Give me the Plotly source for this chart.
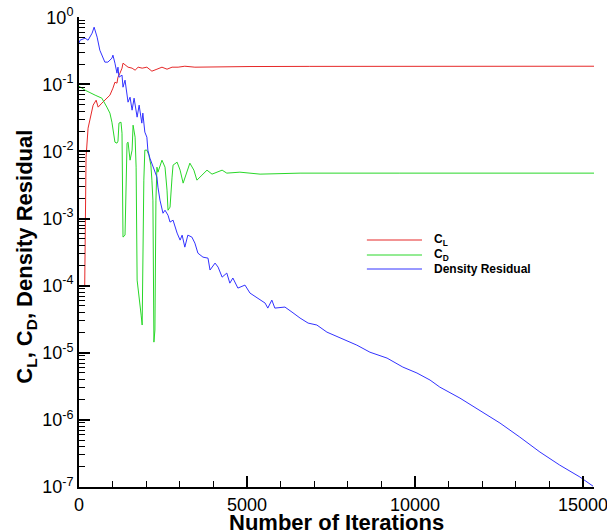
import plotly.graph_objects as go

# ---------------- data ----------------
it_cl = [170, 210, 270, 390, 420, 510, 570, 680, 830, 920, 1010, 1070, 1130, 1160,
         1220, 1280, 1310, 1370, 1460, 1580, 1670, 1760, 1880, 2020, 2170, 2320,
         2470, 2620, 2770, 2950, 3150, 3450, 3900, 5090, 6870, 9550, 15330]
cl = [1.0e-4, 8.2e-3, 0.0222, 0.0412, 0.0489, 0.058, 0.0457, 0.0524, 0.0622, 0.0689,
      0.0876, 0.1076, 0.104, 0.1277, 0.1466, 0.174, 0.2065, 0.193, 0.180, 0.174,
      0.1624, 0.180, 0.174, 0.180, 0.157, 0.168, 0.180, 0.168, 0.180, 0.180, 0.186,
      0.180, 0.182, 0.184, 0.185, 0.186, 0.186]

it_cd = [0, 180, 480, 680, 830, 920, 980, 1010, 1070, 1130, 1160, 1190, 1250, 1280,
         1310, 1370, 1400, 1430, 1460, 1520, 1580, 1610, 1670, 1700, 1730, 1790,
         1850, 1880, 1900, 1930, 1960, 2020, 2080, 2140, 2170, 2200, 2230, 2260,
         2290, 2320, 2350, 2470, 2560, 2620, 2650, 2710, 2770, 2800, 2920, 3010,
         3100, 3210, 3300, 3420, 3510, 3660, 3810, 3960, 4110, 4260, 4400, 4790,
         5390, 6580, 9550, 15330]
cd = [0.0938, 0.0818, 0.0689, 0.0622, 0.0457, 0.0372, 0.0273, 0.0207, 0.01374,
      0.01328, 0.01422, 0.0264, 0.0273, 0.0187, 5.29e-4, 5.66e-4, 1.88e-3, 0.01328,
      0.01374, 7.41e-3, 0.01045, 0.0246, 0.0163, 5.83e-3, 1.21e-4, 7.23e-5, 3.64e-5,
      2.59e-5, 6.72e-4, 3.73e-3, 0.01045, 0.01045, 8.81e-3, 6.25e-3, 3.73e-3,
      1.88e-3, 1.44e-5, 2.18e-5, 1.88e-3, 5.83e-3, 4.91e-3, 7.41e-3, 5.83e-3,
      2.65e-3, 1.33e-3, 1.48e-3, 4.14e-3, 6.25e-3, 6.92e-3, 5.26e-3, 3.37e-3,
      4.91e-3, 6.69e-3, 5.26e-3, 3.73e-3, 4.43e-3, 5.26e-3, 4.59e-3, 4.91e-3,
      5.26e-3, 4.75e-3, 4.91e-3, 4.59e-3, 4.75e-3, 4.75e-3, 4.75e-3]

it_res = [0, 30, 180, 270, 390, 450, 540, 620, 770, 860, 980, 1010, 1070, 1130, 1160,
          1190, 1280, 1310, 1370, 1430, 1460, 1520, 1580, 1640, 1730, 1790, 1870,
          1900, 1960, 2020, 2050, 2110, 2200, 2320, 2350, 2410, 2500, 2560, 2650,
          2710, 2800, 2920, 3010, 3070, 3150, 3240, 3360, 3450, 3540, 3690, 3840,
          3900, 4050, 4140, 4260, 4400, 4490, 4580, 4730, 4940, 5090, 5300, 5540,
          5620, 5740, 5830, 6130, 6340, 6580, 6820, 7080, 7380, 7770, 8270, 8660,
          9170, 9640, 10060, 10450, 10740, 11340, 11930, 12530, 13120, 13720, 14310,
          14910, 15300]
res = [0.410, 0.454, 0.487, 0.454, 0.578, 0.710, 0.504, 0.322, 0.214, 0.214, 0.245,
       0.272, 0.2065, 0.1466, 0.180, 0.1277, 0.137, 0.0906, 0.1153, 0.0738, 0.0542,
       0.0643, 0.0412, 0.0622, 0.0324, 0.0489, 0.0264, 0.0372, 0.0194, 0.0163,
       0.01045, 7.94e-3, 5.83e-3, 4.14e-3, 2.94e-3, 1.88e-3, 1.20e-3, 1.33e-3,
       1.12e-3, 8.85e-4, 9.46e-4, 6.07e-4, 4.77e-4, 5.66e-4, 3.75e-4, 5.66e-4,
       5.29e-4, 4.30e-4, 3.05e-4, 2.66e-4, 2.57e-4, 1.71e-4, 2.17e-4, 1.89e-4,
       1.34e-4, 1.54e-4, 1.09e-4, 1.30e-4, 9.20e-5, 1.02e-4, 7.75e-5, 6.53e-5,
       5.50e-5, 4.63e-5, 6.09e-5, 4.63e-5, 4.80e-5, 4.04e-5, 3.29e-5, 2.77e-5,
       2.59e-5, 2.03e-5, 1.65e-5, 1.30e-5, 1.02e-5, 8.33e-6, 6.12e-6, 4.99e-6,
       3.92e-6, 3.08e-6, 2.11e-6, 1.40e-6, 8.98e-7, 5.55e-7, 3.32e-7, 2.12e-7,
       1.41e-7, 1.03e-7]

series_names = ["<b>C<sub>L</sub></b>", "<b>C<sub>D</sub></b>", "<b>Density Residual</b>"]
series_colors = ["rgb(230,40,40)", "rgb(40,215,40)", "rgb(50,50,255)"]

x_ticks = [0, 5000, 10000, 15000]
x_ticktext = ["0", "5000", "10000", "15000"]
x_minor = [1000, 2000, 3000, 4000, 6000, 7000, 8000, 9000, 11000, 12000, 13000, 14000]
y_ticks = [1e-7, 1e-6, 1e-5, 1e-4, 1e-3, 1e-2, 1e-1, 1e0]
y_ticktext = ["10<sup>-7</sup>", "10<sup>-6</sup>", "10<sup>-5</sup>", "10<sup>-4</sup>",
              "10<sup>-3</sup>", "10<sup>-2</sup>", "10<sup>-1</sup>", "10<sup>0</sup>"]

# ---------------- figure ----------------
FONT = "Liberation Sans, Arial, sans-serif"
fig = go.Figure()
for xs, ys, nm, col in zip([it_cl, it_cd, it_res], [cl, cd, res], series_names, series_colors):
    fig.add_trace(go.Scatter(x=xs, y=ys, mode="lines", name=nm,
                             line=dict(color=col, width=1)))

minor_y = [m * 10.0 ** k for k in range(-7, 0) for m in range(2, 10)]

# legend drawn as line samples + labels (compact Tecplot-style spacing)
leg_y = [0.5255, 0.4936, 0.4638]
shapes = []
annotations = []
for yy, nm, col in zip(leg_y, series_names, series_colors):
    shapes.append(dict(type="line", xref="paper", yref="paper", x0=0.559, x1=0.666,
                       y0=yy, y1=yy, line=dict(color=col, width=1)))
    annotations.append(dict(text=nm, xref="paper", yref="paper", x=0.685, y=yy,
                            xanchor="left", yanchor="middle", showarrow=False,
                            font=dict(size=12, family=FONT, color="black")))

annotations += [
    dict(text="<b>Number of Iterations</b>", xref="paper", yref="paper",
         x=0.5, y=-0.075, xanchor="center", yanchor="middle", showarrow=False,
         font=dict(size=22, family=FONT, color="black")),
    dict(text="<b>C<sub>L</sub>, C<sub>D</sub>, Density Residual</b>",
         xref="paper", yref="paper", x=-0.103, y=0.49, textangle=-90,
         xanchor="center", yanchor="middle", showarrow=False,
         font=dict(size=22, family=FONT, color="black")),
]

fig.update_layout(
    width=607, height=531,
    margin=dict(l=79, r=13, t=17, b=44, autoexpand=False),
    plot_bgcolor="white",
    showlegend=False,
    xaxis=dict(range=[0, 15330], showgrid=False, zeroline=False, automargin=False,
               showline=True, linecolor="black", linewidth=2, layer="above traces",
               tickvals=x_ticks, ticktext=x_ticktext,
               ticks="inside", ticklen=11, tickwidth=2, tickcolor="black",
               ticklabeloverflow="allow",
               tickfont=dict(size=18, family=FONT, color="black"),
               minor=dict(ticks="inside", ticklen=6, tickwidth=1, tickcolor="black",
                          tickvals=x_minor, showgrid=False)),
    yaxis=dict(type="log", range=[-7, 0.003], showgrid=False, zeroline=False,
               automargin=False, showline=True, linecolor="black", linewidth=2,
               layer="above traces",
               tickvals=y_ticks, ticktext=y_ticktext,
               ticks="inside", ticklen=11, tickwidth=2, tickcolor="black",
               ticklabeloverflow="allow",
               tickfont=dict(size=18, family=FONT, color="black"),
               minor=dict(ticks="inside", ticklen=6, tickwidth=1, tickcolor="black",
                          tickvals=minor_y, showgrid=False)),
    shapes=shapes,
    annotations=annotations,
)

fig.write_html("out.html", post_script="document.body.style.margin='0px';",
               config={"displayModeBar": False})
